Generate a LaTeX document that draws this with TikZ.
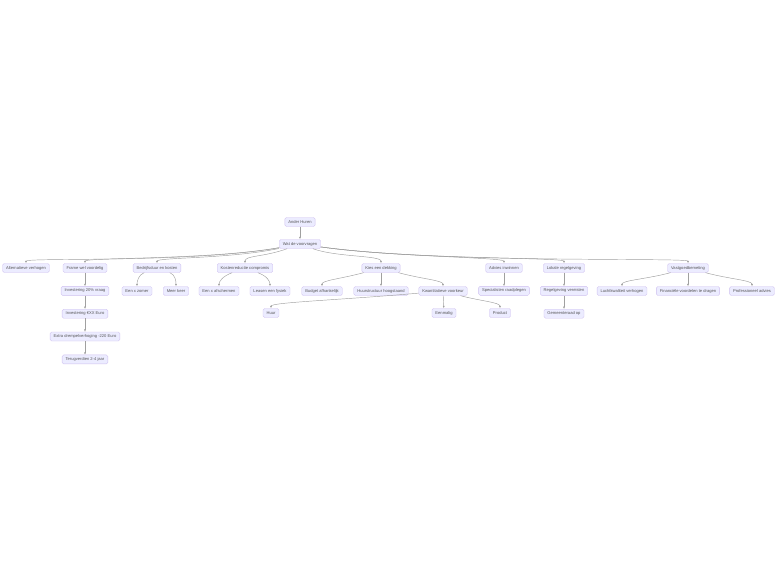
\documentclass[tikz,border=0pt]{standalone}
\usepackage{fontspec}
\setmainfont{Liberation Sans}
\usetikzlibrary{positioning,arrows.meta}
\definecolor{mmfill}{HTML}{ECECFF}
\definecolor{mmline}{HTML}{9370DB}
\definecolor{mmedge}{HTML}{A0A0A0}
\definecolor{mmtext}{HTML}{555555}

\begin{document}
\begin{tikzpicture}[
  x=1pt, y=-1pt,
  node distance=13.5pt,
  item/.style={draw=mmline!45, fill=mmfill, rounded corners=1.5pt, line width=0.35pt, inner xsep=3.5pt, inner ysep=0pt, text height=3pt, text depth=1pt, minimum height=9pt, font=\fontsize{4.1}{4.5}\selectfont, text=mmtext},
  arr/.style={-{Latex[length=2.4pt,width=2pt]}, draw=mmedge, line width=0.45pt}
]
\useasboundingbox (0,0) rectangle (784,582);
% top
\node[item] (huren) at (300,222) {Ander Huren};
\node[item] (vragen) at (300,244) {Wat de voorvragen};
% level 2
\node[item] (alt) at (26,268) {Alternatieve verhogen};
\node[item] (frame) at (85,268) {Frame wel voordelig};
\node[item] (duur) at (157,268) {Bedrijfsduur en kosten};
\node[item] (kosten) at (245,268) {Kostenreductie compromis};
\node[item] (kies) at (381,268) {Kies een dekking};
\node[item] (advies) at (504,268) {Advies inwinnen};
\node[item] (lokaal) at (564,268) {Lokale regelgeving};
\node[item] (vastgoed) at (688,268) {Vastgoedbemeting};
% level 3
\node[item, below=of frame] (inv20) {Investering 20\% vraag};
\node[item, below=of inv20] (invxx) {Investering €XX Euro};
\node[item, below=of invxx] (extra) {Extra drempelverhoging -220 Euro};
\node[item, below=of extra] (terug) {Terugverdien 2-4 jaar};
\node[item] (zomer) at (137,291) {Een x zomer};
\node[item] (meer) at (176,291) {Meer keer};
\node[item] (afsch) at (219,291) {Een x afschermen};
\node[item] (lease) at (270,291) {Leasen een fysiek};
\node[item] (budget) at (322,291) {Budget afhankelijk};
\node[item] (huurstr) at (381,291) {Huurstructuur hoogstaand};
\node[item] (kwant) at (443,291) {Kwantitatieve voorkeur};
\node[item, below=of advies] (spec) {Specialisten raadplegen};
\node[item, below=of lokaal] (regel) {Regelgeving vereisten};
\node[item, below=of regel] (gemeente) {Gemeenteraad op};
\node[item] (lucht) at (622,291) {Luchtkwaliteit verhogen};
\node[item] (fin) at (688,291) {Financiële voordelen te dragen};
\node[item] (prof) at (752,291) {Professioneel advies};
% level 4
\node[item] (huur) at (271,313) {Huur};
\node[item] (eenmalig) at (444,313) {Eenmalig};
\node[item] (product) at (500,313) {Product};

\draw[arr] (huren) -- (vragen);
\draw[arr] (vragen) to[out=190, in=90, out distance=90, in distance=6] (alt);
\draw[arr] (vragen) to[out=190, in=90, out distance=70, in distance=6] (frame);
\draw[arr] (vragen) to[out=192, in=90, out distance=50, in distance=6] (duur);
\draw[arr] (vragen) to[out=200, in=90, out distance=25, in distance=8] (kosten);
\draw[arr] (vragen) to[out=-20, in=90, out distance=25, in distance=8] (kies);
\draw[arr] (vragen) to[out=-8, in=90, out distance=70, in distance=6] (advies);
\draw[arr] (vragen) to[out=-8, in=90, out distance=90, in distance=6] (lokaal);
\draw[arr] (vragen) to[out=-8, in=90, out distance=120, in distance=6] (vastgoed);

\draw[arr] (frame) -- (inv20);
\draw[arr] (inv20) -- (invxx);
\draw[arr] (invxx) -- (extra);
\draw[arr] (extra) -- (terug);
\draw[arr] (duur) to[out=200, in=90, out distance=6, in distance=5] (zomer);
\draw[arr] (duur) to[out=-20, in=90, out distance=6, in distance=5] (meer);
\draw[arr] (kosten) to[out=200, in=90, out distance=10, in distance=5] (afsch);
\draw[arr] (kosten) to[out=-20, in=90, out distance=10, in distance=5] (lease);
\draw[arr] (kies) to[out=195, in=90, out distance=25, in distance=6] (budget);
\draw[arr] (kies) -- (huurstr);
\draw[arr] (kies) to[out=-15, in=90, out distance=25, in distance=6] (kwant);
\draw[arr] (kwant) to[out=185, in=90, out distance=80, in distance=6] (huur);
\draw[arr] (kwant) -- (eenmalig);
\draw[arr] (kwant) to[out=-15, in=90, out distance=20, in distance=6] (product);
\draw[arr] (advies) -- (spec);
\draw[arr] (lokaal) -- (regel);
\draw[arr] (regel) -- (gemeente);
\draw[arr] (vastgoed) to[out=195, in=90, out distance=25, in distance=6] (lucht);
\draw[arr] (vastgoed) -- (fin);
\draw[arr] (vastgoed) to[out=-15, in=90, out distance=25, in distance=6] (prof);
\end{tikzpicture}
\end{document}
